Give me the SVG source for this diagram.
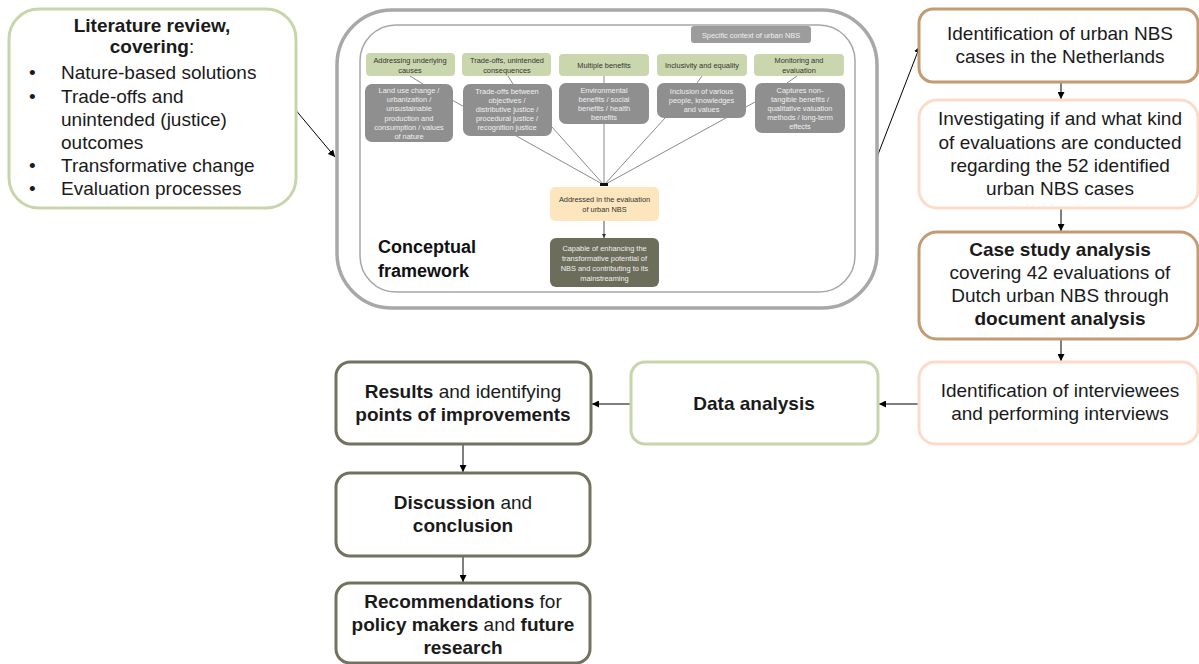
<svg xmlns="http://www.w3.org/2000/svg" width="1199" height="664" viewBox="0 0 1199 664">
  <defs>
    <marker id="arrow" viewBox="0 0 10 10" refX="10" refY="5" markerWidth="7" markerHeight="7" orient="auto" markerUnits="userSpaceOnUse">
      <path d="M0,0 L10,5 L0,10 Z" fill="#000"/>
    </marker>
    <marker id="arrowSmall" viewBox="0 0 10 10" refX="10" refY="5" markerWidth="4" markerHeight="4" orient="auto" markerUnits="userSpaceOnUse">
      <path d="M0,0 L10,5 L0,10 Z" fill="#333"/>
    </marker>
    <style>
      text { font-family: "Liberation Sans", Arial, sans-serif; }
      .main { font-size: 19px; fill: #1a1a1a; text-anchor: middle; }
      .lit { font-size: 19px; fill: #1a1a1a; }
      .b { font-weight: bold; }
      .box { fill: #fff; stroke-width: 3; }
      .green { stroke: #c8d5ab; }
      .tan { stroke: #c49a72; }
      .peach { stroke: #fcdcc8; }
      .olive { stroke: #72725f; }
      .hdr { fill: #cad7ae; }
      .hdrT { font-size: 7.4px; fill: #333; text-anchor: middle; }
      .gray { fill: #8f8f8f; }
      .grayT { font-size: 7.4px; fill: #f0f0f0; text-anchor: middle; }
      .fan { stroke: #8a8a8a; stroke-width: 1; fill: none; }
      .conn { stroke: #000; stroke-width: 1; fill: none; }
    </style>
  </defs>

  <!-- connectors between the main steps -->
  <g id="connectors">
    <line class="conn" x1="294" y1="108" x2="335" y2="157" marker-end="url(#arrow)"/>
    <line class="conn" x1="877" y1="157" x2="920" y2="46" marker-end="url(#arrow)"/>
    <line class="conn" x1="1061" y1="82" x2="1061" y2="99" marker-end="url(#arrow)"/>
    <line class="conn" x1="1061" y1="209" x2="1061" y2="231" marker-end="url(#arrow)"/>
    <line class="conn" x1="1061" y1="340" x2="1061" y2="361" marker-end="url(#arrow)"/>
    <line class="conn" x1="919" y1="404" x2="879" y2="404" marker-end="url(#arrow)"/>
    <line class="conn" x1="631" y1="404" x2="592" y2="404" marker-end="url(#arrow)"/>
    <line class="conn" x1="463" y1="445" x2="463" y2="472" marker-end="url(#arrow)"/>
    <line class="conn" x1="463" y1="557" x2="463" y2="582" marker-end="url(#arrow)"/>
  </g>

  <!-- literature review -->
  <g id="literature">
    <rect class="box green" x="9" y="9" width="287" height="199" rx="30"/>
    <text class="main b" x="152" y="32">Literature review,</text>
    <text class="main" x="152" y="53"><tspan class="b">covering</tspan>:</text>
    <g class="lit">
      <text class="lit" x="29" y="79">•</text><text class="lit" x="61" y="79">Nature-based solutions</text>
      <text class="lit" x="29" y="103">•</text><text class="lit" x="61" y="103">Trade-offs and</text>
      <text class="lit" x="61" y="126">unintended (justice)</text>
      <text class="lit" x="61" y="149">outcomes</text>
      <text class="lit" x="29" y="172">•</text><text class="lit" x="61" y="172">Transformative change</text>
      <text class="lit" x="29" y="195">•</text><text class="lit" x="61" y="195">Evaluation processes</text>
    </g>
  </g>

  <!-- conceptual framework -->
  <g id="framework">
    <rect x="337" y="10" width="540" height="298" rx="55" fill="#fff" stroke="#a8a8a8" stroke-width="3.5"/>
    <rect x="360" y="25" width="495" height="267" rx="36" fill="#fff" stroke="#a6a6a6" stroke-width="1.5"/>

    <g id="fw-context">
      <rect x="691" y="26" width="120" height="17" rx="3" fill="#9c9c9c"/>
      <text class="grayT" x="751" y="37.5">Specific context of urban NBS</text>
    </g>

    <!-- fan of lines into the evaluation box -->
    <g id="fw-lines">
      <line class="fan" x1="410" y1="76" x2="423" y2="84"/>
      <line class="fan" x1="508" y1="76" x2="513" y2="84"/>
      <line class="fan" x1="604" y1="76" x2="604" y2="83"/>
      <line class="fan" x1="702" y1="76" x2="697" y2="83"/>
      <line class="fan" x1="797" y1="76" x2="787" y2="83"/>
      <line class="fan" x1="452" y1="100" x2="604" y2="185"/>
      <line class="fan" x1="552" y1="127" x2="604" y2="185"/>
      <line class="fan" x1="604" y1="124" x2="604" y2="185"/>
      <line class="fan" x1="665" y1="118" x2="604" y2="185"/>
      <line class="fan" x1="755" y1="102" x2="604" y2="185"/>
      <rect x="600" y="183" width="8" height="3" fill="#111"/>
      <line x1="604" y1="221" x2="604" y2="238" stroke="#555" stroke-width="1" marker-end="url(#arrowSmall)"/>
    </g>

    <g id="fw-col1">
      <rect class="hdr" x="366" y="53" width="89" height="23" rx="4"/>
      <text class="hdrT" x="410" y="63">Addressing underlying</text>
      <text class="hdrT" x="410" y="73">causes</text>
      <rect class="gray" x="365" y="84" width="88" height="58" rx="7"/>
      <text class="grayT" x="409" y="93">Land use change /</text>
      <text class="grayT" x="409" y="102.2">urbanization /</text>
      <text class="grayT" x="409" y="111.4">unsustainable</text>
      <text class="grayT" x="409" y="120.6">production and</text>
      <text class="grayT" x="409" y="129.8">consumption / values</text>
      <text class="grayT" x="409" y="139">of nature</text>
    </g>

    <g id="fw-col2">
      <rect class="hdr" x="462" y="53" width="89" height="23" rx="4"/>
      <text class="hdrT" x="507" y="63">Trade-offs, unintended</text>
      <text class="hdrT" x="507" y="73">consequences</text>
      <rect class="gray" x="463" y="84" width="89" height="52" rx="7"/>
      <text class="grayT" x="507" y="93.5">Trade-offs between</text>
      <text class="grayT" x="507" y="102.7">objectives /</text>
      <text class="grayT" x="507" y="111.9">distributive justice /</text>
      <text class="grayT" x="507" y="121.1">procedural justice /</text>
      <text class="grayT" x="507" y="130.3">recognition justice</text>
    </g>

    <g id="fw-col3">
      <rect class="hdr" x="559" y="54" width="90" height="22" rx="4"/>
      <text class="hdrT" x="604" y="67.5">Multiple benefits</text>
      <rect class="gray" x="559" y="83" width="90" height="41" rx="7"/>
      <text class="grayT" x="604" y="92.5">Environmental</text>
      <text class="grayT" x="604" y="101.6">benefits / social</text>
      <text class="grayT" x="604" y="110.7">benefits / health</text>
      <text class="grayT" x="604" y="119.8">benefits</text>
    </g>

    <g id="fw-col4">
      <rect class="hdr" x="657" y="54" width="90" height="22" rx="4"/>
      <text class="hdrT" x="702" y="67.5">Inclusivity and equality</text>
      <rect class="gray" x="657" y="83" width="89" height="35" rx="7"/>
      <text class="grayT" x="701.5" y="94">Inclusion of various</text>
      <text class="grayT" x="701.5" y="103">people, knowledges</text>
      <text class="grayT" x="701.5" y="112">and values</text>
    </g>

    <g id="fw-col5">
      <rect class="hdr" x="754" y="54" width="90" height="22" rx="4"/>
      <text class="hdrT" x="799" y="62.5">Monitoring and</text>
      <text class="hdrT" x="799" y="73">evaluation</text>
      <rect class="gray" x="755" y="83" width="90" height="50" rx="7"/>
      <text class="grayT" x="800" y="92.5">Captures non-</text>
      <text class="grayT" x="800" y="101.7">tangible benefits /</text>
      <text class="grayT" x="800" y="110.9">qualitative valuation</text>
      <text class="grayT" x="800" y="120.1">methods /  long-term</text>
      <text class="grayT" x="800" y="129.3">effects</text>
    </g>

    <g id="fw-addressed">
      <rect x="550" y="187" width="109" height="34" rx="5" fill="#fde6bd"/>
      <text class="hdrT" x="604.5" y="201.5">Addressed in the evaluation</text>
      <text class="hdrT" x="604.5" y="211.8">of urban NBS</text>
    </g>

    <g id="fw-capable">
      <rect x="550" y="238" width="109" height="49" rx="6" fill="#6c6e5b"/>
      <text class="grayT" x="604.5" y="250.8">Capable of enhancing the</text>
      <text class="grayT" x="604.5" y="260.8">transformative potential of</text>
      <text class="grayT" x="604.5" y="270.8">NBS and contributing to its</text>
      <text class="grayT" x="604.5" y="280.8">mainstreaming</text>
    </g>

    <text x="378" y="253" font-size="18" font-weight="bold" fill="#111">Conceptual</text>
    <text x="378" y="277" font-size="18" font-weight="bold" fill="#111">framework</text>
  </g>

  <!-- right-hand column -->
  <g id="identification-cases">
    <rect class="box tan" x="919" y="9" width="279" height="73" rx="14"/>
    <text class="main" x="1060" y="40">Identification of urban NBS</text>
    <text class="main" x="1060" y="63">cases in the Netherlands</text>
  </g>

  <g id="investigating">
    <rect class="box peach" x="919" y="100" width="279" height="108" rx="18"/>
    <text class="main" x="1060" y="125">Investigating if and what kind</text>
    <text class="main" x="1060" y="149">of evaluations are conducted</text>
    <text class="main" x="1060" y="172">regarding the 52 identified</text>
    <text class="main" x="1060" y="195">urban NBS cases</text>
  </g>

  <g id="case-study">
    <rect class="box tan" x="919" y="232" width="279" height="107" rx="18"/>
    <text class="main b" x="1060" y="256">Case study analysis</text>
    <text class="main" x="1060" y="279">covering 42 evaluations of</text>
    <text class="main" x="1060" y="302">Dutch urban NBS through</text>
    <text class="main b" x="1060" y="325">document analysis</text>
  </g>

  <g id="interviews">
    <rect class="box peach" x="919" y="362" width="279" height="82" rx="16"/>
    <text class="main" x="1060" y="397">Identification of interviewees</text>
    <text class="main" x="1060" y="420">and performing interviews</text>
  </g>

  <!-- lower row -->
  <g id="data-analysis">
    <rect class="box green" x="631" y="362" width="247" height="82" rx="14"/>
    <text class="main b" x="754" y="410">Data analysis</text>
  </g>

  <g id="results">
    <rect class="box olive" x="336" y="362" width="255" height="82" rx="14"/>
    <text class="main" x="463" y="398"><tspan class="b">Results</tspan> and identifying</text>
    <text class="main b" x="463" y="421">points of improvements</text>
  </g>

  <g id="discussion">
    <rect class="box olive" x="336" y="473" width="254" height="83" rx="14"/>
    <text class="main" x="463" y="509"><tspan class="b">Discussion</tspan> and</text>
    <text class="main b" x="463" y="532">conclusion</text>
  </g>

  <g id="recommendations">
    <rect class="box olive" x="336" y="583" width="254" height="80" rx="14"/>
    <text class="main" x="463" y="608"><tspan class="b">Recommendations</tspan> for</text>
    <text class="main" x="463" y="631"><tspan class="b">policy makers</tspan> and <tspan class="b">future</tspan></text>
    <text class="main b" x="463" y="654">research</text>
  </g>
</svg>
